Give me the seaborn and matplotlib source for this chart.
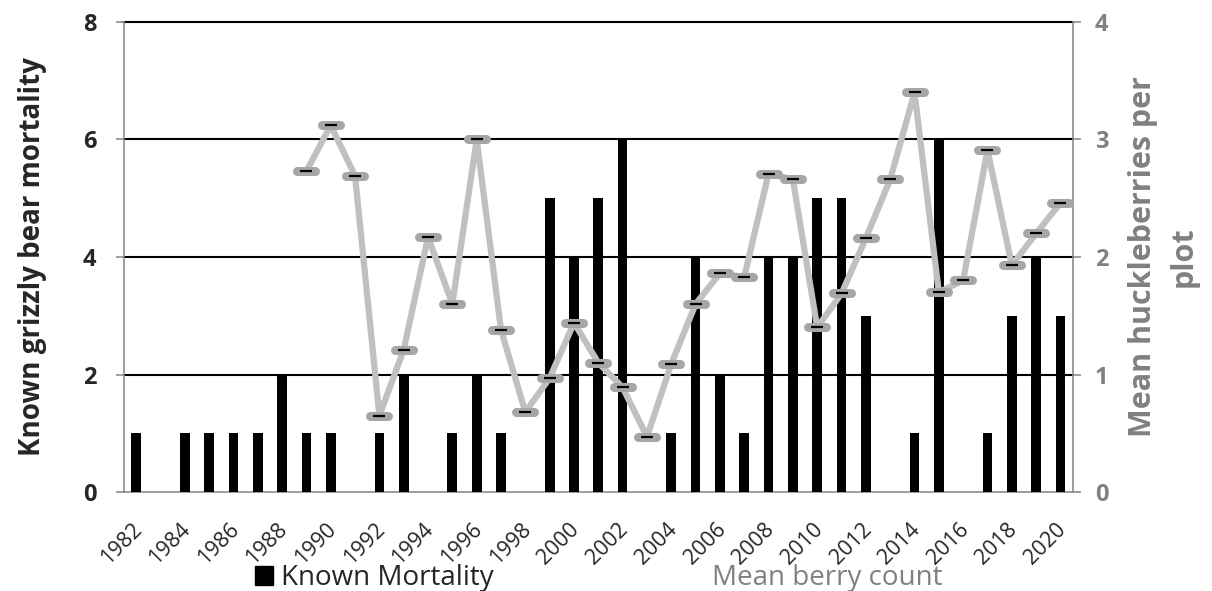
import numpy as np
import pandas as pd
import matplotlib
matplotlib.use("Agg")
import matplotlib.pyplot as plt
import seaborn as sns
from matplotlib.markers import MarkerStyle
from matplotlib.patches import Patch
from matplotlib.lines import Line2D
from matplotlib.transforms import ScaledTranslation

years = list(range(1982, 2021))

mortality = [1, 0, 1, 1, 1, 1, 2, 1, 1, 0,
             1, 2, 0, 1, 2, 1, 0, 5, 4, 5,
             6, 0, 1, 4, 2, 1, 4, 4, 5, 5,
             3, 0, 1, 6, 0, 1, 3, 4, 3]

# berry counts start in 1989
berry = [np.nan] * 7 + [2.73, 3.12, 2.69,
         0.65, 1.21, 2.17, 1.60, 3.00, 1.38, 0.68, 0.97, 1.44, 1.10,
         0.89, 0.47, 1.09, 1.60, 1.86, 1.83, 2.71, 2.66, 1.40, 1.69,
         2.16, 2.66, 3.40, 1.70, 1.80, 2.91, 1.93, 2.20, 2.46]

df = pd.DataFrame({"year": [str(y) for y in years], "mortality": mortality, "berry": berry})
df["pos"] = df.index

sns.set_style("white")
plt.rcParams["font.family"] = ["Open Sans", "DejaVu Sans"]

grey_txt = "#808080"
spine_c = "#8c8c8c"

fig = plt.figure(figsize=(12.12, 5.91), dpi=100)
ax = fig.add_axes([0.1023, 0.1675, 0.7827, 0.7953])

sns.barplot(data=df, x="year", y="mortality", color="black", width=0.4,
            saturation=1, linewidth=0, ax=ax, zorder=3)
ax.set_xlim(-0.5, len(years) - 0.5)
ax.set_ylim(0, 8)
ax.set_yticks([0, 2, 4, 6, 8])
for v in [2, 4, 6, 8]:
    ax.axhline(v, color="black", lw=1.5, zorder=1, clip_on=False)

# x ticks: labels every other year, tick marks between categories
ax.set_xticks(df["pos"][::2])
ax.set_xticklabels(df["year"][::2], rotation=45, ha="right", rotation_mode="anchor",
                   fontsize=15.5)
ax.set_xticks(np.arange(-0.5, len(years)), minor=True)
ax.tick_params(axis="x", which="major", length=0, pad=18)
ax.tick_params(axis="x", which="minor", length=6, color=spine_c, width=1.2, direction="out")
ax.tick_params(axis="y", length=6, color=spine_c, width=1.2, direction="out", pad=14,
               labelsize=17)
for lab in ax.get_yticklabels():
    lab.set_fontweight("bold")
for lab in ax.get_xticklabels():
    lab.set_transform(lab.get_transform() + ScaledTranslation(-0.05, -0.02, fig.dpi_scale_trans))
ax.set_xlabel("")
ax.set_ylabel("Known grizzly bear mortality", fontsize=20, fontweight="bold", labelpad=26)

for s in ["left", "bottom"]:
    ax.spines[s].set_color(spine_c)
    ax.spines[s].set_linewidth(1.2)
ax.spines["top"].set_visible(False)
ax.spines["right"].set_visible(False)

ax2 = ax.twinx()
ax2.plot(df["pos"], df["berry"], color="#c0c0c0", lw=4.5, zorder=3,
         marker=MarkerStyle("_", capstyle="round"), ms=12.5, mew=6.5, mec="#a6a6a6")
ax2.plot(df["pos"], df["berry"], lw=0, marker="_", ms=8.5, mew=1.6, mec="black", zorder=4)
ax2.set_ylim(0, 4)
ax2.set_yticks([0, 1, 2, 3, 4])
ax2.tick_params(axis="y", length=6, color=spine_c, width=1.2, direction="out", pad=10,
                labelsize=17, labelcolor=grey_txt)
for lab in ax2.get_yticklabels():
    lab.set_fontweight("bold")
ax2.set_ylabel("Mean huckleberries per\nplot", fontsize=22, fontweight="bold",
               color=grey_txt, labelpad=14, linespacing=1.45)
for s in ["top", "left", "bottom"]:
    ax2.spines[s].set_visible(False)
ax2.spines["right"].set_color(spine_c)
ax2.spines["right"].set_linewidth(1.2)

handles = [Patch(color="black"), Line2D([], [], lw=0)]
leg = fig.legend(handles, ["Known Mortality", "Mean berry count"], loc="center",
                 bbox_to_anchor=(0.494, 0.022), ncol=2, frameon=False, fontsize=20,
                 handlelength=0.65, handleheight=0.65, handletextpad=0.3,
                 columnspacing=6.9)
leg.get_texts()[1].set_color(grey_txt)

fig.savefig("out.png", dpi=100)
